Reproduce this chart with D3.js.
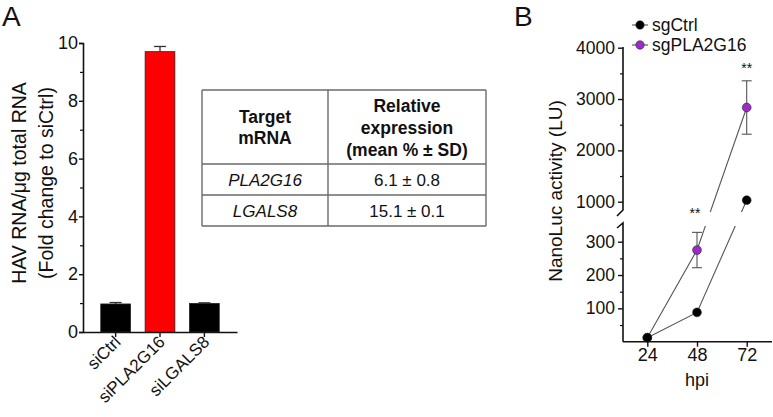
<!DOCTYPE html>
<html>
<head>
<meta charset="utf-8">
<script src="https://cdn.jsdelivr.net/npm/d3@7"></script>
<style>
  body { margin: 0; background: #fff; }
  svg { font-family: "Liberation Sans", Arial, sans-serif; }
</style>
</head>
<body>
<svg id="fig" width="773" height="417"></svg>
<script>
// panel A data
var groups = ["siCtrl", "siPLA2G16", "siLGALS8"];
var foldChange = [0.97, 9.70, 0.99];
var foldSd = [0.05, 0.18, 0.02];
var barColors = ["#000000", "#ff0000", "#000000"];
var yTicksA = [0, 2, 4, 6, 8, 10];

// table
var tableHead = [["Target", "mRNA"], ["Relative", "expression", "(mean % \u00b1 SD)"]];
var tableGenes = ["PLA2G16", "LGALS8"];
var tableValues = ["6.1 \u00b1 0.8", "15.1 \u00b1 0.1"];

// panel B data
var hpi = [24, 48, 72];
var sgCtrl = [12, 88, 1030];
var sgCtrlSd = [0, 0, 0];
var sgPLA2G16 = [12, 275, 2835];
var sgPLA2G16Sd = [0, 53, 520];
var upperTicks = [1000, 2000, 3000, 4000];
var lowerTicks = [100, 200, 300];
var stars = [[48, "**"], [72, "**"]];

var svg = d3.select("#fig");
var ink = "#111";
var fam = "Liberation Sans, Arial";

// ---------- panel A ----------
svg.append("text").attr("x", 2).attr("y", 26).attr("font-size", 28).attr("fill", ink).text("A");

var yA = d3.scaleLinear().domain([0, 10]).range([332, 43]);
var xA = d3.scaleBand().domain(groups).range([83, 237]).paddingInner(0.33).paddingOuter(0.4);

var gA = svg.append("g");
gA.append("g")
  .attr("transform", "translate(83,0)")
  .call(d3.axisLeft(yA).tickValues(yTicksA).tickSize(4).tickPadding(1))
  .call(g => g.select(".domain").attr("stroke", ink).attr("stroke-width", 1.6))
  .call(g => g.selectAll(".tick line").attr("stroke", ink).attr("stroke-width", 1.4))
  .call(g => g.selectAll("text").attr("font-size", 18).attr("fill", ink).style("font-family", fam));
gA.append("g")
  .attr("transform", "translate(83,0)")
  .call(d3.axisLeft(yA).tickValues(d3.range(1, 10, 2)).tickSize(3).tickFormat(""))
  .call(g => g.select(".domain").remove())
  .call(g => g.selectAll(".tick line").attr("stroke", ink).attr("stroke-width", 1.2));

gA.append("g")
  .attr("transform", "translate(0,332)")
  .call(d3.axisBottom(xA).tickSize(5).tickFormat("").tickSizeOuter(0))
  .call(g => g.select(".domain").attr("stroke", ink).attr("stroke-width", 1.6))
  .call(g => g.selectAll(".tick line").attr("stroke", ink).attr("stroke-width", 1.4));

gA.selectAll("rect.bar").data(groups).enter().append("rect")
  .attr("class", "bar")
  .attr("x", d => xA(d))
  .attr("width", xA.bandwidth())
  .attr("y", (d, i) => yA(foldChange[i]))
  .attr("height", (d, i) => yA(0) - yA(foldChange[i]))
  .attr("fill", (d, i) => barColors[i])
  .attr("stroke", "#222").attr("stroke-width", 0.8);

gA.selectAll("g.err").data(groups).enter().append("g").attr("class", "err")
  .each(function (d, i) {
    var cx = xA(d) + xA.bandwidth() / 2;
    var g = d3.select(this);
    g.append("line").attr("x1", cx).attr("x2", cx)
      .attr("y1", yA(foldChange[i])).attr("y2", yA(foldChange[i] + foldSd[i]))
      .attr("stroke", "#333").attr("stroke-width", 1.3);
    g.append("line").attr("x1", cx - 6).attr("x2", cx + 6)
      .attr("y1", yA(foldChange[i] + foldSd[i])).attr("y2", yA(foldChange[i] + foldSd[i]))
      .attr("stroke", "#333").attr("stroke-width", 1.3);
  });

gA.selectAll("text.xl").data(groups).enter().append("text")
  .attr("class", "xl")
  .attr("transform", d => "translate(" + (xA(d) + xA.bandwidth() / 2 + 6) + ",343) rotate(-45)")
  .attr("text-anchor", "end")
  .attr("font-size", 17).attr("fill", ink)
  .text(d => d);

var yLab = gA.append("text")
  .attr("transform", "translate(26,183) rotate(-90)")
  .attr("text-anchor", "middle").attr("font-size", 19.5).attr("fill", ink);
yLab.append("tspan").attr("x", 0).attr("dy", 0).text("HAV RNA/\u03bcg total RNA");
yLab.append("tspan").attr("x", 0).attr("dy", 27).text("(Fold change to siCtrl)");

// ---------- table ----------
var tb = svg.append("g");
var tx = [202, 328, 486];
var ty = [90, 164, 195, 226];
var lineCol = "#6a6a6a";
ty.forEach(y => tb.append("line").attr("x1", tx[0]).attr("x2", tx[2]).attr("y1", y).attr("y2", y)
  .attr("stroke", lineCol).attr("stroke-width", 1.4));
tx.forEach(x => tb.append("line").attr("x1", x).attr("x2", x).attr("y1", ty[0]).attr("y2", ty[3])
  .attr("stroke", lineCol).attr("stroke-width", 1.4));
var colMid = [(tx[0] + tx[1]) / 2, (tx[1] + tx[2]) / 2];
tableHead[0].forEach((t, i) => tb.append("text").attr("x", colMid[0]).attr("y", 123 + i * 21)
  .attr("text-anchor", "middle").attr("font-size", 17.5).attr("font-weight", "bold").attr("fill", ink).text(t));
tableHead[1].forEach((t, i) => tb.append("text").attr("x", colMid[1]).attr("y", 112 + i * 22)
  .attr("text-anchor", "middle").attr("font-size", 17.5).attr("font-weight", "bold").attr("fill", ink).text(t));
tableGenes.forEach((t, i) => {
  var y = (ty[i + 1] + ty[i + 2]) / 2 + 6;
  tb.append("text").attr("x", colMid[0]).attr("y", y).attr("text-anchor", "middle")
    .attr("font-size", 17).attr("font-style", "italic").attr("fill", ink).text(t);
  tb.append("text").attr("x", colMid[1]).attr("y", y).attr("text-anchor", "middle")
    .attr("font-size", 17).attr("fill", ink).text(tableValues[i]);
});

// ---------- panel B ----------
svg.append("text").attr("x", 514).attr("y", 26).attr("font-size", 28).attr("fill", ink).text("B");

var axX = 623;
var yUp = d3.scaleLinear().domain([1000, 4000]).range([201.7, 47.7]);
var yLo = d3.scaleLinear().domain([0, 300]).range([341.7, 241.7]);
var xB = d3.scaleLinear().domain([24, 72]).range([647.3, 746.7]);
var breakTop = 212, breakBot = 226;
function yB(v) { return v >= 600 ? yUp(v) : yLo(v); }

var gB = svg.append("g");
// upper axis
gB.append("g").attr("transform", "translate(" + axX + ",0)")
  .call(d3.axisLeft(yUp).tickValues(upperTicks).tickFormat(d3.format("d")).tickSize(5).tickPadding(3).tickSizeOuter(0))
  .call(g => g.select(".domain").remove())
  .call(g => g.selectAll(".tick line").attr("stroke", ink).attr("stroke-width", 1.4))
  .call(g => g.selectAll("text").attr("font-size", 17.5).attr("fill", ink).style("font-family", fam));
gB.append("g").attr("transform", "translate(" + axX + ",0)")
  .call(d3.axisLeft(yUp).tickValues([1500, 2500, 3500]).tickSize(3).tickFormat(""))
  .call(g => g.select(".domain").remove())
  .call(g => g.selectAll(".tick line").attr("stroke", ink).attr("stroke-width", 1.2));
// lower axis
gB.append("g").attr("transform", "translate(" + axX + ",0)")
  .call(d3.axisLeft(yLo).tickValues(lowerTicks).tickFormat(d3.format("d")).tickSize(5).tickPadding(3))
  .call(g => g.select(".domain").remove())
  .call(g => g.selectAll(".tick line").attr("stroke", ink).attr("stroke-width", 1.4))
  .call(g => g.selectAll("text").attr("font-size", 17.5).attr("fill", ink).style("font-family", fam));
gB.append("g").attr("transform", "translate(" + axX + ",0)")
  .call(d3.axisLeft(yLo).tickValues([50, 150, 250]).tickSize(3).tickFormat(""))
  .call(g => g.select(".domain").remove())
  .call(g => g.selectAll(".tick line").attr("stroke", ink).attr("stroke-width", 1.2));

// y axis line with break marks
gB.append("path")
  .attr("d", "M" + axX + ",47 V" + (breakTop - 2) + " L" + (axX - 6) + "," + (breakTop + 4))
  .attr("fill", "none").attr("stroke", ink).attr("stroke-width", 1.6);
gB.append("path")
  .attr("d", "M" + (axX - 6) + "," + (breakBot + 2) + " L" + axX + "," + (breakBot - 3) + " V341.7")
  .attr("fill", "none").attr("stroke", ink).attr("stroke-width", 1.6);

// x axis
gB.append("g").attr("transform", "translate(0,341.7)")
  .call(d3.axisBottom(xB).tickValues(hpi).tickSize(5).tickPadding(2).tickSizeOuter(0))
  .call(g => g.select(".domain").attr("d", "M" + axX + ",0H772").attr("stroke", ink).attr("stroke-width", 1.6))
  .call(g => g.selectAll(".tick line").attr("stroke", ink).attr("stroke-width", 1.4))
  .call(g => g.selectAll("text").attr("font-size", 18).attr("fill", ink).style("font-family", fam));

gB.append("text").attr("x", xB(48)).attr("y", 386).attr("text-anchor", "middle")
  .attr("font-size", 18).attr("fill", ink).text("hpi");

gB.append("text").attr("transform", "translate(562,191) rotate(-90)")
  .attr("text-anchor", "middle").attr("font-size", 19).attr("fill", ink)
  .text("NanoLuc activity (LU)");

// clip regions excluding the break zone
var defs = svg.append("defs");
defs.append("clipPath").attr("id", "clipUp").append("rect")
  .attr("x", 0).attr("y", 0).attr("width", 773).attr("height", breakTop);
defs.append("clipPath").attr("id", "clipLo").append("rect")
  .attr("x", 0).attr("y", breakBot).attr("width", 773).attr("height", 417 - breakBot);

var series = [
  { name: "sgCtrl", vals: sgCtrl, sd: sgCtrlSd, fill: "#000000" },
  { name: "sgPLA2G16", vals: sgPLA2G16, sd: sgPLA2G16Sd, fill: "#9b2ccb" }
];
var line = d3.line().x((d, i) => xB(hpi[i])).y(d => yB(d));

series.forEach(s => {
  ["clipUp", "clipLo"].forEach(c => {
    gB.append("path").attr("d", line(s.vals)).attr("clip-path", "url(#" + c + ")")
      .attr("fill", "none").attr("stroke", "#555").attr("stroke-width", 1.1);
  });
});
// error bars
series.forEach(s => {
  s.vals.forEach((v, i) => {
    if (!s.sd[i]) return;
    var cx = xB(hpi[i]);
    var y1 = yB(v + s.sd[i]), y2 = yB(v - s.sd[i]);
    var g = gB.append("g").attr("stroke", "#555").attr("stroke-width", 1.1);
    g.append("line").attr("x1", cx).attr("x2", cx).attr("y1", y1).attr("y2", y2);
    g.append("line").attr("x1", cx - 5).attr("x2", cx + 5).attr("y1", y1).attr("y2", y1);
    g.append("line").attr("x1", cx - 5).attr("x2", cx + 5).attr("y1", y2).attr("y2", y2);
  });
});
// points: purple first, black on top at 24 hpi
[series[1], series[0]].forEach(s => {
  gB.selectAll(null).data(s.vals).enter().append("circle")
    .attr("cx", (d, i) => xB(hpi[i])).attr("cy", d => yB(d))
    .attr("r", 4.4).attr("fill", s.fill).attr("stroke", "#222").attr("stroke-width", 0.6);
});

stars.forEach(st => {
  var y = st[0] === 48 ? 218 : 73;
  gB.append("text").attr("x", xB(st[0]) - (st[0] === 48 ? 2 : 0)).attr("y", y)
    .attr("text-anchor", "middle").attr("font-size", 14).attr("fill", ink).text(st[1]);
});

// legend
var lg = gB.append("g");
series.forEach((s, i) => {
  var y = 25 + i * 20;
  lg.append("line").attr("x1", 632).attr("x2", 648).attr("y1", y).attr("y2", y)
    .attr("stroke", "#555").attr("stroke-width", 1.1);
  lg.append("circle").attr("cx", 640).attr("cy", y).attr("r", 4.2)
    .attr("fill", s.fill).attr("stroke", "#222").attr("stroke-width", 0.6);
  lg.append("text").attr("x", 652).attr("y", y + 6).attr("font-size", 17.5).attr("fill", ink).text(s.name);
});
</script>
</body>
</html>
